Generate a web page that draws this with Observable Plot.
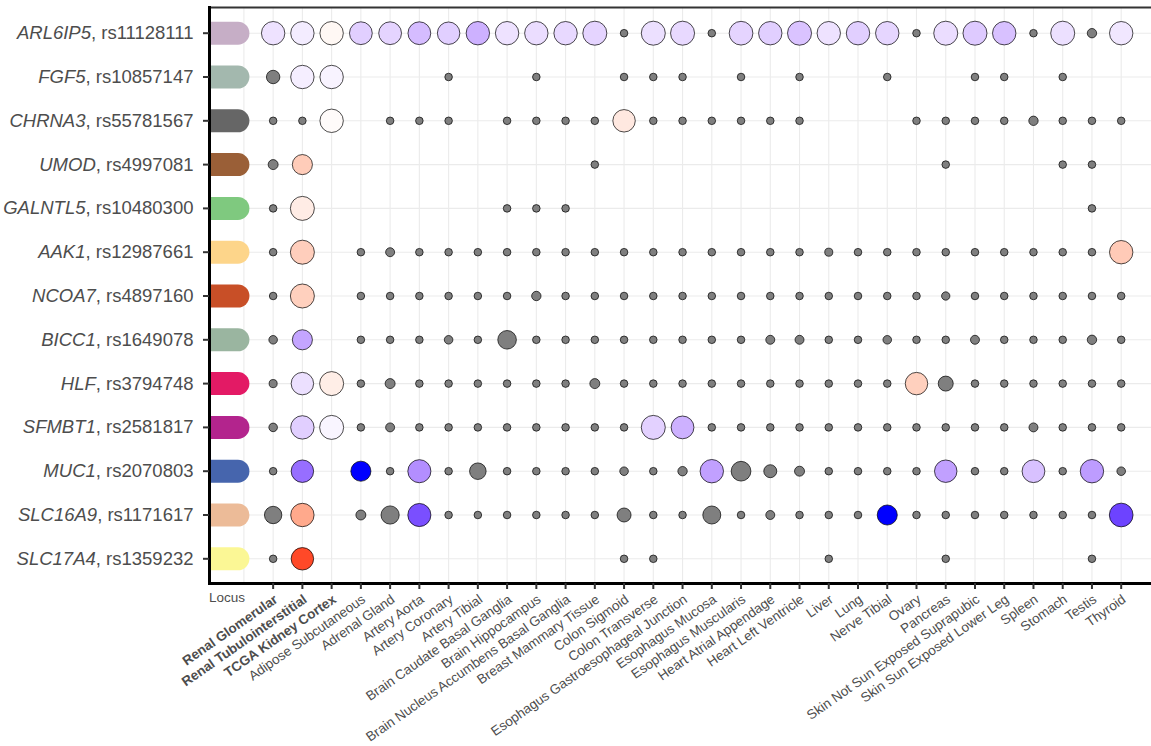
<!DOCTYPE html>
<html>
<head>
<meta charset="utf-8">
<script src="https://cdn.jsdelivr.net/npm/d3@7"></script>
<script src="https://cdn.jsdelivr.net/npm/@observablehq/plot@0.6"></script>
<style>
  html, body { margin: 0; padding: 0; background: #fff; overflow: hidden; }
</style>
</head>
<body>
<div id="chart"></div>
<script>
// GTEx / kidney tissues, in column order
const tissues = [
  "Renal Glomerular", "Renal Tubulointerstitial", "TCGA Kidney Cortex",
  "Adipose Subcutaneous", "Adrenal Gland", "Artery Aorta", "Artery Coronary", "Artery Tibial",
  "Brain Caudate Basal Ganglia", "Brain Hippocampus", "Brain Nucleus Accumbens Basal Ganglia",
  "Breast Mammary Tissue", "Colon Sigmoid", "Colon Transverse",
  "Esophagus Gastroesophageal Junction", "Esophagus Mucosa", "Esophagus Muscularis",
  "Heart Atrial Appendage", "Heart Left Ventricle", "Liver", "Lung", "Nerve Tibial", "Ovary",
  "Pancreas", "Skin Not Sun Exposed Suprapubic", "Skin Sun Exposed Lower Leg", "Spleen",
  "Stomach", "Testis", "Thyroid"
];
const kidneyTissues = tissues.slice(0, 3);

// loci, top to bottom
const genes = ["ARL6IP5", "FGF5", "CHRNA3", "UMOD", "GALNTL5", "AAK1", "NCOA7",
               "BICC1", "HLF", "SFMBT1", "MUC1", "SLC16A9", "SLC17A4"];
const snps = ["rs11128111", "rs10857147", "rs55781567", "rs4997081", "rs10480300", "rs12987661",
              "rs4897160", "rs1649078", "rs3794748", "rs2581817", "rs2070803", "rs1171617", "rs1359232"];
const locusColors = ["#c6aec6", "#a3b8ae", "#666666", "#9a5f37", "#7fc97f", "#fdd58a", "#c84f27",
                     "#9ab5a0", "#e31a65", "#b3248d", "#4665ad", "#ecbb98", "#fbf795"];

// eQTL significance (-log10 P) per locus x tissue; 0 = not tested
const significance = [
  [38, 38, 38, 36, 36, 36, 35, 38, 38, 38, 38, 40, 4, 40, 40, 4, 39, 38, 40, 38, 38, 38, 4, 40, 40, 38, 4, 40, 6.1, 38],
  [12.5, 38, 38, 0, 0, 0, 4, 0, 0, 4, 0, 0, 4, 4, 4, 0, 4, 0, 4, 0, 0, 4, 0, 0, 4, 4, 0, 4, 0, 0],
  [4, 4, 38, 0, 4, 4, 4, 0, 4, 4, 4, 4, 35, 4, 4, 4, 4, 4, 4, 0, 0, 0, 4, 4, 4, 4, 6.1, 4, 4, 4],
  [6.9, 28, 0, 0, 0, 0, 0, 0, 0, 0, 0, 4, 0, 0, 0, 0, 0, 0, 0, 0, 0, 0, 0, 4, 0, 0, 0, 4, 4, 0],
  [4, 40, 0, 0, 0, 0, 0, 0, 4, 4, 4, 0, 0, 0, 0, 0, 0, 0, 0, 0, 0, 0, 0, 0, 0, 0, 0, 0, 4, 0],
  [4, 40, 0, 4, 5.6, 4, 4, 4, 4, 4, 4, 4, 4, 4, 4, 4, 4, 4, 4, 4.5, 4, 4, 4, 4, 4, 4, 4, 4, 4, 38],
  [4, 40, 0, 4, 4, 4, 4, 4, 4, 6.1, 4, 4, 4, 4, 4, 4, 4, 4, 4, 4, 4, 4, 4, 4.8, 4, 4, 4, 4, 4, 4],
  [5.1, 28, 0, 4, 4, 4, 5.1, 4, 24, 4, 4, 4, 4, 4, 4, 4, 4, 5.6, 5.6, 4, 4, 5.1, 4, 4, 5.6, 4, 4, 4, 6.1, 4],
  [4.5, 35, 40, 4, 6.9, 4, 4, 4, 4, 4, 4, 6.9, 4, 4, 4, 4, 4, 4, 4, 4, 4, 4, 35, 15.6, 4, 4, 4, 4, 4, 4],
  [5.1, 38, 40, 4, 5.6, 4, 4, 4, 4, 4, 4, 4, 4, 40, 36, 4, 4, 4, 4, 4, 4, 4, 4, 4, 4, 4, 5.6, 4, 4, 4],
  [4, 35, 0, 28, 4, 37, 4, 19, 4, 4, 4, 4, 5.1, 4, 6.1, 38, 27, 11.7, 6.9, 4, 4, 4, 4, 35, 4, 4, 36, 4, 38, 5.1],
  [21, 38, 0, 6.9, 23, 37, 4, 4, 4, 4, 4, 4, 13.6, 4, 4, 22.5, 4, 5.6, 4, 4, 4, 28, 4, 4, 4, 4, 4, 4, 4, 39],
  [4, 35, 0, 0, 0, 0, 0, 0, 0, 0, 0, 0, 4, 4, 0, 0, 0, 0, 0, 4, 0, 0, 0, 4, 0, 0, 0, 0, 4, 0]
];

// scaled effect direction of significant eQTLs; null = not significant
const _ = null;
const effect = [
  [-0.12, -0.08, 0.04, -0.2, -0.18, -0.28, -0.2, -0.33, -0.12, -0.14, -0.16, -0.18, _, -0.13, -0.16, _, -0.18, -0.2, -0.25, -0.12, -0.2, -0.17, _, -0.14, -0.22, -0.26, _, -0.13, _, -0.1],
  [_, -0.07, -0.05, _, _, _, _, _, _, _, _, _, _, _, _, _, _, _, _, _, _, _, _, _, _, _, _, _, _, _],
  [_, _, 0.02, _, _, _, _, _, _, _, _, _, 0.12, _, _, _, _, _, _, _, _, _, _, _, _, _, _, _, _, _],
  [_, 0.27, _, _, _, _, _, _, _, _, _, _, _, _, _, _, _, _, _, _, _, _, _, _, _, _, _, _, _, _],
  [_, 0.1, _, _, _, _, _, _, _, _, _, _, _, _, _, _, _, _, _, _, _, _, _, _, _, _, _, _, _, _],
  [_, 0.26, _, _, _, _, _, _, _, _, _, _, _, _, _, _, _, _, _, _, _, _, _, _, _, _, _, _, _, 0.28],
  [_, 0.25, _, _, _, _, _, _, _, _, _, _, _, _, _, _, _, _, _, _, _, _, _, _, _, _, _, _, _, _],
  [_, -0.38, _, _, _, _, _, _, _, _, _, _, _, _, _, _, _, _, _, _, _, _, _, _, _, _, _, _, _, _],
  [_, -0.13, 0.09, _, _, _, _, _, _, _, _, _, _, _, _, _, _, _, _, _, _, _, 0.25, _, _, _, _, _, _, _],
  [_, -0.2, -0.04, _, _, _, _, _, _, _, _, _, _, -0.19, -0.33, _, _, _, _, _, _, _, _, _, _, _, _, _, _, _],
  [_, -0.62, _, -1.0, _, -0.48, _, _, _, _, _, _, _, _, _, -0.4, _, _, _, _, _, _, _, -0.4, _, _, -0.26, _, -0.42, _],
  [_, 0.45, _, _, _, -0.75, _, _, _, _, _, _, _, _, _, _, _, _, _, _, _, -1.0, _, _, _, _, _, _, _, -0.8],
  [_, 0.87, _, _, _, _, _, _, _, _, _, _, _, _, _, _, _, _, _, _, _, _, _, _, _, _, _, _, _, _]
];

// long-format table built from the arrays above
const cells = [];
genes.forEach((g, i) => tissues.forEach((t, j) => {
  if (significance[i][j] > 0) cells.push({gene: g, tissue: t, sig: significance[i][j], effect: effect[i][j]});
}));
const grey = cells.filter(d => d.effect == null);
const coloured = cells.filter(d => d.effect != null);

// locus swatch: flat on the left (meets the axis), rounded on the right
const pill = {
  draw(ctx, size) {
    const r = Math.sqrt(size / Math.PI);
    const cx = -0.52 * r;
    ctx.moveTo(-3 * r, -r);
    ctx.lineTo(cx, -r);
    ctx.arc(cx, 0, r, -Math.PI / 2, Math.PI / 2);
    ctx.lineTo(-3 * r, r);
    ctx.closePath();
  }
};

const textGrey = "#4d4d4d";
const tickDark = "#333333";

const chart = Plot.plot({
  width: 1151,
  height: 746,
  marginLeft: 209,
  marginRight: 0,
  marginTop: 7,
  marginBottom: 163,
  style: {fontFamily: "'Liberation Sans', Arial, Helvetica, sans-serif", background: "#fff"},
  x: {type: "point", domain: ["Locus", ...tissues], range: [243.4, 1120.7], padding: 0, round: false, label: null},
  y: {type: "point", domain: genes, range: [32.7, 558.3], padding: 0, round: false, label: null},
  r: {type: "sqrt", domain: [0, 40], range: [0, 12]},
  color: {type: "linear", domain: [-1, 0, 1], range: ["blue", "white", "red"], interpolate: "lab"},
  marks: [
    Plot.gridX({stroke: "#ebebeb", strokeOpacity: 1, strokeWidth: 1.1}),
    Plot.gridY({stroke: "#ebebeb", strokeOpacity: 1, strokeWidth: 1.1}),
    Plot.dot(genes, {
      x: () => "Locus", y: d => d, r: 11.5, symbol: pill, stroke: null,
      fill: {value: (d, i) => locusColors[i], scale: null}, clip: "frame"
    }),
    Plot.dot(grey, {x: "tissue", y: "gene", r: "sig", fill: "#7f7f7f", stroke: "black", strokeWidth: 0.7}),
    Plot.dot(coloured, {x: "tissue", y: "gene", r: "sig", fill: "effect", stroke: "black", strokeWidth: 0.7}),
    Plot.frame({anchor: "top", stroke: tickDark, strokeWidth: 2}),
    Plot.frame({anchor: "left", stroke: "black", strokeWidth: 3}),
    Plot.frame({anchor: "bottom", stroke: "black", strokeWidth: 3}),
    Plot.axisY({tickSize: 6, tickPadding: 10, fontSize: 18.5, fill: textGrey, stroke: tickDark, strokeWidth: 2, label: null}),
    Plot.axisX(kidneyTissues, {tickSize: 6, tickPadding: 4, tickRotate: -35, lineAnchor: "top", fontSize: 13.5,
      fontWeight: "bold", fill: textGrey, stroke: tickDark, strokeWidth: 2, label: null}),
    Plot.axisX(tissues.slice(3), {tickSize: 6, tickPadding: 4, tickRotate: -35, lineAnchor: "top", fontSize: 13.5,
      fill: textGrey, stroke: tickDark, strokeWidth: 2, label: null}),
    Plot.axisX(["Locus"], {tickSize: 0, tickPadding: 9, fontSize: 13.5, textAnchor: "start", dx: -35,
      fill: textGrey, label: null})
  ]
});

// y tick labels: italic gene symbol followed by the lead SNP
const ns = "http://www.w3.org/2000/svg";
chart.querySelectorAll('[aria-label="y-axis tick label"] text').forEach(t => {
  const g = t.textContent;
  const i = genes.indexOf(g);
  if (i < 0) return;
  t.textContent = "";
  const a = document.createElementNS(ns, "tspan");
  a.setAttribute("font-style", "italic");
  a.textContent = g;
  const b = document.createElementNS(ns, "tspan");
  b.textContent = ", " + snps[i];
  t.append(a, b);
});

document.getElementById("chart").append(chart);
</script>
</body>
</html>
